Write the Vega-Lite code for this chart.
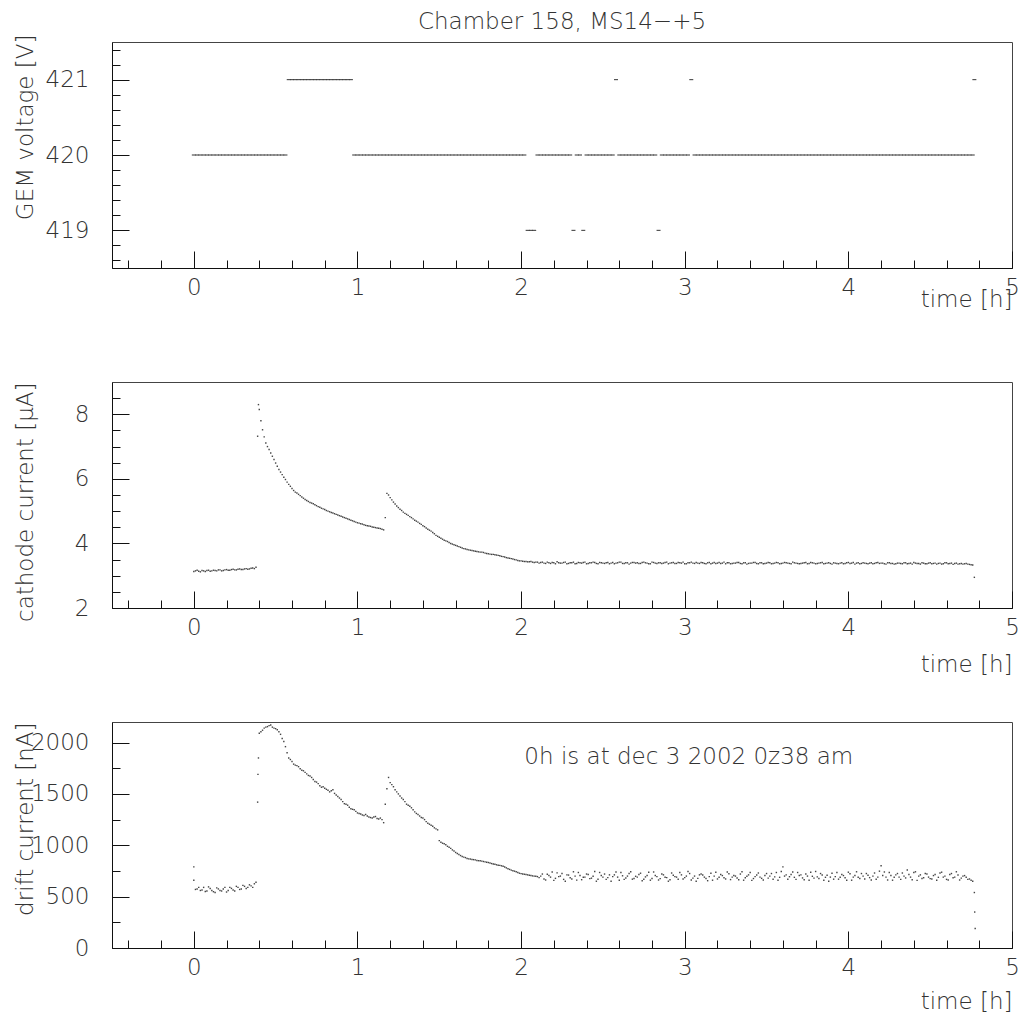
{
"$schema": "https://vega.github.io/schema/vega-lite/v6.json",
"padding": {"left": 13, "top": 10, "right": 5, "bottom": 5},
"background": "white",
"title": {"text": "Chamber 158, MS14−+5", "fontSize": 23, "font": "DejaVu Sans", "fontWeight": 200, "color": "#333", "anchor": "middle", "frame": "group", "baseline": "alphabetic", "offset": -18},
"spacing": 114,
"bounds": "flush",
"config": {
  "font": "DejaVu Sans",
  "view": {"stroke": "#444", "strokeWidth": 1},
  "axis": {"domainColor": "#111", "tickColor": "#111", "tickWidth": 1, "labelFont": "DejaVu Sans", "labelFontSize": 23, "labelFontWeight": 200, "labelColor": "#333", "titleFont": "DejaVu Sans", "titleFontSize": 23, "titleFontWeight": 200, "titleColor": "#333", "grid": false, "labelFlush": false, "labelOverlap": false, "labelBound": false}
},
"datasets": {"m": [
{"t":0.00,"v":420,"c":3.13,"d":660},{"t":0.00,"d":790},
{"t":0.02,"v":420,"c":3.17,"d":575},{"t":0.04,"v":420,"c":3.12,"d":560},{"t":0.06,"v":420,"c":3.15,"d":590},{"t":0.08,"v":420,"c":3.16,"d":555},
{"t":0.10,"v":420,"c":3.14,"d":580},{"t":0.12,"v":420,"c":3.17,"d":548},{"t":0.14,"v":420,"c":3.15,"d":585},{"t":0.16,"v":420,"c":3.18,"d":560},
{"t":0.18,"v":420,"c":3.16,"d":575},{"t":0.20,"v":420,"c":3.19,"d":545},{"t":0.22,"v":420,"c":3.17,"d":590},{"t":0.24,"v":420,"c":3.20,"d":565},
{"t":0.26,"v":420,"c":3.18,"d":600},{"t":0.28,"v":420,"c":3.21,"d":570},{"t":0.30,"v":420,"c":3.19,"d":610},{"t":0.32,"v":420,"c":3.22,"d":580},
{"t":0.34,"v":420,"c":3.21,"d":615},{"t":0.36,"v":420,"c":3.24,"d":590},{"t":0.38,"v":420,"c":3.26,"d":640},
{"t":0.39,"c":7.32,"d":1420},{"t":0.392,"d":1690},{"t":0.395,"c":8.30,"d":1850},
{"t":0.40,"v":420,"c":8.15,"d":2090},{"t":0.42,"v":420,"c":7.52,"d":2120},{"t":0.44,"v":420,"c":7.11,"d":2150},{"t":0.46,"v":420,"c":6.91,"d":2165},
{"t":0.48,"v":420,"c":6.70,"d":2150},{"t":0.50,"v":420,"c":6.49,"d":2135},{"t":0.52,"v":420,"c":6.29,"d":2105},{"t":0.54,"v":420,"c":6.13,"d":2040},
{"t":0.56,"v":420,"c":5.98,"d":1960},{"t":0.58,"v":421,"c":5.83,"d":1850},{"t":0.60,"v":421,"c":5.70,"d":1815},{"t":0.62,"v":421,"c":5.59,"d":1780},
{"t":0.64,"v":421,"c":5.52,"d":1765},{"t":0.66,"v":421,"c":5.44,"d":1730},{"t":0.68,"v":421,"c":5.36,"d":1710},{"t":0.70,"v":421,"c":5.30,"d":1680},
{"t":0.72,"v":421,"c":5.25,"d":1660},{"t":0.74,"v":421,"c":5.20,"d":1620},{"t":0.76,"v":421,"c":5.14,"d":1600},{"t":0.78,"v":421,"c":5.09,"d":1565},
{"t":0.80,"v":421,"c":5.05,"d":1555},{"t":0.82,"v":421,"c":5.00,"d":1535},{"t":0.84,"v":421,"c":4.96,"d":1530},{"t":0.86,"v":421,"c":4.92,"d":1505},
{"t":0.88,"v":421,"c":4.88,"d":1475},{"t":0.90,"v":421,"c":4.84,"d":1445},{"t":0.92,"v":421,"c":4.80,"d":1405},{"t":0.94,"v":421,"c":4.76,"d":1390},
{"t":0.96,"v":421,"c":4.72,"d":1355},{"t":0.98,"v":420,"c":4.68,"d":1345},{"t":1.00,"v":420,"c":4.64,"d":1315},{"t":1.02,"v":420,"c":4.61,"d":1305},
{"t":1.04,"v":420,"c":4.58,"d":1290},{"t":1.06,"v":420,"c":4.55,"d":1285},{"t":1.08,"v":420,"c":4.53,"d":1270},{"t":1.10,"v":420,"c":4.50,"d":1275},
{"t":1.12,"v":420,"c":4.48,"d":1260},{"t":1.14,"v":420,"c":4.46,"d":1265},{"t":1.16,"v":420,"c":4.42,"d":1220},
{"t":1.17,"c":4.80,"d":1400},{"t":1.19,"c":5.50,"d":1660},
{"t":1.18,"v":420,"c":5.55,"d":1550},{"t":1.20,"v":420,"c":5.42,"d":1610},{"t":1.22,"v":420,"c":5.28,"d":1570},{"t":1.24,"v":420,"c":5.16,"d":1520},
{"t":1.26,"v":420,"c":5.06,"d":1480},{"t":1.28,"v":420,"c":4.97,"d":1445},{"t":1.30,"v":420,"c":4.90,"d":1400},{"t":1.32,"v":420,"c":4.83,"d":1380},
{"t":1.34,"v":420,"c":4.76,"d":1345},{"t":1.36,"v":420,"c":4.69,"d":1310},{"t":1.38,"v":420,"c":4.62,"d":1285},{"t":1.40,"v":420,"c":4.55,"d":1265},
{"t":1.42,"v":420,"c":4.48,"d":1230},{"t":1.44,"v":420,"c":4.41,"d":1205},{"t":1.46,"v":420,"c":4.34,"d":1185},{"t":1.48,"v":420,"c":4.25,"d":1160},
{"t":1.50,"v":420,"c":4.19,"d":1045},{"t":1.52,"v":420,"c":4.13,"d":1020},{"t":1.54,"v":420,"c":4.08,"d":1005},{"t":1.56,"v":420,"c":4.03,"d":980},
{"t":1.58,"v":420,"c":3.98,"d":955},{"t":1.60,"v":420,"c":3.94,"d":930},{"t":1.62,"v":420,"c":3.90,"d":910},{"t":1.64,"v":420,"c":3.86,"d":890},
{"t":1.66,"v":420,"c":3.83,"d":880},{"t":1.68,"v":420,"c":3.80,"d":868},{"t":1.70,"v":420,"c":3.78,"d":862},{"t":1.72,"v":420,"c":3.76,"d":858},
{"t":1.74,"v":420,"c":3.74,"d":850},{"t":1.76,"v":420,"c":3.73,"d":846},{"t":1.78,"v":420,"c":3.70,"d":838},{"t":1.80,"v":420,"c":3.68,"d":832},
{"t":1.82,"v":420,"c":3.66,"d":822},{"t":1.84,"v":420,"c":3.65,"d":815},{"t":1.86,"v":420,"c":3.63,"d":806},{"t":1.88,"v":420,"c":3.60,"d":800},
{"t":1.90,"v":420,"c":3.58,"d":788},{"t":1.92,"v":420,"c":3.55,"d":772},{"t":1.94,"v":420,"c":3.53,"d":758},{"t":1.96,"v":420,"c":3.50,"d":748},
{"t":1.98,"v":420,"c":3.47,"d":735},{"t":2.00,"v":420,"c":3.46,"d":724},{"t":2.02,"v":420,"c":3.44,"d":718},{"t":2.04,"v":419,"c":3.43,"d":712},
{"t":2.06,"v":419,"c":3.44,"d":705},{"t":2.08,"v":419,"c":3.41,"d":700},{"t":2.10,"v":420,"c":3.42,"d":695},
{"t":2.12,"v":420,"c":3.41,"d":700},{"t":2.14,"v":420,"c":3.39,"d":672},{"t":2.16,"v":420,"c":3.42,"d":718},{"t":2.18,"v":420,"c":3.38,"d":690},{"t":2.20,"v":420,"c":3.40,"d":658},
{"t":2.22,"v":420,"c":3.43,"d":731},{"t":2.24,"v":420,"c":3.39,"d":700},{"t":2.26,"v":420,"c":3.41,"d":668},{"t":2.28,"v":420,"c":3.37,"d":712},{"t":2.30,"v":420,"c":3.40,"d":684},
{"t":2.32,"v":419,"c":3.42,"d":742},{"t":2.34,"v":420,"c":3.38,"d":661},{"t":2.36,"v":420,"c":3.40,"d":705},{"t":2.38,"v":419,"c":3.41,"d":688},{"t":2.40,"v":420,"c":3.37,"d":720},
{"t":2.42,"v":420,"c":3.40,"d":675},{"t":2.44,"v":420,"c":3.42,"d":698},{"t":2.46,"v":420,"c":3.38,"d":650},{"t":2.48,"v":420,"c":3.41,"d":735},{"t":2.50,"v":420,"c":3.39,"d":690},
{"t":2.52,"v":420,"c":3.40,"d":668},{"t":2.54,"v":420,"c":3.37,"d":712},{"t":2.56,"v":420,"c":3.41,"d":695},{"t":2.58,"v":421,"c":3.39,"d":740},{"t":2.60,"v":420,"c":3.42,"d":660},
{"t":2.62,"v":420,"c":3.38,"d":703},{"t":2.64,"v":420,"c":3.40,"d":682},{"t":2.66,"v":420,"c":3.36,"d":725},{"t":2.68,"v":420,"c":3.41,"d":670},{"t":2.70,"v":420,"c":3.39,"d":698},
{"t":2.72,"v":420,"c":3.38,"d":715},{"t":2.74,"v":420,"c":3.41,"d":655},{"t":2.76,"v":420,"c":3.40,"d":692},{"t":2.78,"v":420,"c":3.37,"d":738},{"t":2.80,"v":420,"c":3.42,"d":676},
{"t":2.82,"v":420,"c":3.39,"d":705},{"t":2.84,"v":419,"c":3.40,"d":662},{"t":2.86,"v":420,"c":3.38,"d":720},{"t":2.88,"v":420,"c":3.41,"d":688},{"t":2.90,"v":420,"c":3.37,"d":650},
{"t":2.92,"v":420,"c":3.40,"d":730},{"t":2.94,"v":420,"c":3.38,"d":695},{"t":2.96,"v":420,"c":3.41,"d":670},{"t":2.98,"v":420,"c":3.39,"d":712},{"t":3.00,"v":420,"c":3.37,"d":685},
{"t":3.02,"v":420,"c":3.40,"d":745},{"t":3.04,"v":421,"c":3.42,"d":662},{"t":3.06,"v":420,"c":3.38,"d":700},{"t":3.08,"v":420,"c":3.39,"d":678},{"t":3.10,"v":420,"c":3.41,"d":720},
{"t":3.12,"v":420,"c":3.38,"d":690},{"t":3.14,"v":420,"c":3.40,"d":655},{"t":3.16,"v":420,"c":3.37,"d":728},{"t":3.18,"v":420,"c":3.41,"d":700},{"t":3.20,"v":420,"c":3.39,"d":672},
{"t":3.22,"v":420,"c":3.38,"d":715},{"t":3.24,"v":420,"c":3.42,"d":684},{"t":3.26,"v":420,"c":3.40,"d":740},{"t":3.28,"v":420,"c":3.37,"d":666},{"t":3.30,"v":420,"c":3.39,"d":705},
{"t":3.32,"v":420,"c":3.41,"d":682},{"t":3.34,"v":420,"c":3.38,"d":720},{"t":3.36,"v":420,"c":3.40,"d":660},{"t":3.38,"v":420,"c":3.36,"d":698},{"t":3.40,"v":420,"c":3.39,"d":735},
{"t":3.42,"v":420,"c":3.41,"d":676},{"t":3.44,"v":420,"c":3.38,"d":710},{"t":3.46,"v":420,"c":3.40,"d":690},{"t":3.48,"v":420,"c":3.37,"d":662},{"t":3.50,"v":420,"c":3.39,"d":725},
{"t":3.52,"v":420,"c":3.40,"d":700},{"t":3.54,"v":420,"c":3.38,"d":670},{"t":3.56,"v":420,"c":3.41,"d":735},{"t":3.58,"v":420,"c":3.37,"d":688},{"t":3.60,"v":420,"c":3.39,"d":790},
{"t":3.62,"v":420,"c":3.40,"d":712},{"t":3.64,"v":420,"c":3.38,"d":694},{"t":3.66,"v":420,"c":3.42,"d":740},{"t":3.68,"v":420,"c":3.39,"d":668},{"t":3.70,"v":420,"c":3.37,"d":705},
{"t":3.72,"v":420,"c":3.39,"d":682},{"t":3.74,"v":420,"c":3.41,"d":720},{"t":3.76,"v":420,"c":3.38,"d":660},{"t":3.78,"v":420,"c":3.40,"d":698},{"t":3.80,"v":420,"c":3.37,"d":745},
{"t":3.82,"v":420,"c":3.39,"d":676},{"t":3.84,"v":420,"c":3.41,"d":710},{"t":3.86,"v":420,"c":3.38,"d":688},{"t":3.88,"v":420,"c":3.40,"d":650},{"t":3.90,"v":420,"c":3.36,"d":728},
{"t":3.92,"v":420,"c":3.39,"d":695},{"t":3.94,"v":420,"c":3.37,"d":670},{"t":3.96,"v":420,"c":3.40,"d":715},{"t":3.98,"v":420,"c":3.38,"d":684},{"t":4.00,"v":420,"c":3.41,"d":738},
{"t":4.02,"v":420,"c":3.39,"d":660},{"t":4.04,"v":420,"c":3.36,"d":705},{"t":4.06,"v":420,"c":3.40,"d":688},{"t":4.08,"v":420,"c":3.38,"d":725},{"t":4.10,"v":420,"c":3.39,"d":672},
{"t":4.12,"v":420,"c":3.37,"d":708},{"t":4.14,"v":420,"c":3.40,"d":662},{"t":4.16,"v":420,"c":3.38,"d":730},{"t":4.18,"v":420,"c":3.41,"d":690},{"t":4.20,"v":420,"c":3.39,"d":800},
{"t":4.22,"v":420,"c":3.37,"d":740},{"t":4.24,"v":420,"c":3.40,"d":662},{"t":4.26,"v":420,"c":3.38,"d":705},{"t":4.28,"v":420,"c":3.36,"d":688},{"t":4.30,"v":420,"c":3.39,"d":725},
{"t":4.32,"v":420,"c":3.38,"d":668},{"t":4.34,"v":420,"c":3.40,"d":700},{"t":4.36,"v":420,"c":3.37,"d":760},{"t":4.38,"v":420,"c":3.39,"d":690},{"t":4.40,"v":420,"c":3.41,"d":735},
{"t":4.42,"v":420,"c":3.38,"d":658},{"t":4.44,"v":420,"c":3.36,"d":712},{"t":4.46,"v":420,"c":3.39,"d":684},{"t":4.48,"v":420,"c":3.37,"d":720},{"t":4.50,"v":420,"c":3.40,"d":675},
{"t":4.52,"v":420,"c":3.38,"d":705},{"t":4.54,"v":420,"c":3.36,"d":660},{"t":4.56,"v":420,"c":3.39,"d":730},{"t":4.58,"v":420,"c":3.37,"d":690},{"t":4.60,"v":420,"c":3.40,"d":668},
{"t":4.62,"v":420,"c":3.38,"d":715},{"t":4.64,"v":420,"c":3.35,"d":684},{"t":4.66,"v":420,"c":3.39,"d":742},{"t":4.68,"v":420,"c":3.37,"d":662},{"t":4.70,"v":420,"c":3.36,"d":700},
{"t":4.72,"v":420,"c":3.38,"d":688},{"t":4.74,"v":420,"c":3.35,"d":672},{"t":4.76,"v":420,"c":3.33,"d":650},
{"t":4.77,"v":421,"c":2.95,"d":540},{"t":4.772,"d":350},{"t":4.775,"d":190},
{"t":0.01,"c":3.15,"d":570},{"t":0.03,"c":3.14,"d":590},{"t":0.05,"c":3.16,"d":565},{"t":0.07,"c":3.13,"d":550},{"t":0.09,"c":3.17,"d":595},
{"t":0.11,"c":3.15,"d":560},{"t":0.13,"c":3.16,"d":540},{"t":0.15,"c":3.18,"d":575},{"t":0.17,"c":3.15,"d":555},{"t":0.19,"c":3.18,"d":590},
{"t":0.21,"c":3.17,"d":560},{"t":0.23,"c":3.19,"d":580},{"t":0.25,"c":3.18,"d":555},{"t":0.27,"c":3.20,"d":590},{"t":0.29,"c":3.19,"d":575},
{"t":0.31,"c":3.21,"d":600},{"t":0.33,"c":3.20,"d":590},{"t":0.35,"c":3.23,"d":605},{"t":0.37,"c":3.22,"d":625},
{"t":0.41,"c":7.80,"d":2105},{"t":0.43,"c":7.30,"d":2140},{"t":0.45,"c":7.00,"d":2155},{"t":0.47,"c":6.80,"d":2170},{"t":0.49,"c":6.60,"d":2140},
{"t":0.51,"c":6.39,"d":2125},{"t":0.53,"c":6.21,"d":2080},{"t":0.55,"c":6.05,"d":2010},{"t":0.57,"c":5.90,"d":1900},{"t":0.59,"c":5.77,"d":1835},
{"t":0.61,"c":5.64,"d":1790},{"t":0.63,"c":5.56,"d":1775},{"t":0.65,"c":5.48,"d":1745},{"t":0.67,"c":5.40,"d":1725},{"t":0.69,"c":5.33,"d":1695},
{"t":0.71,"c":5.27,"d":1675},{"t":0.73,"c":5.23,"d":1640},{"t":0.75,"c":5.17,"d":1615},{"t":0.77,"c":5.12,"d":1580},{"t":0.79,"c":5.07,"d":1570},
{"t":0.81,"c":5.02,"d":1545},{"t":0.83,"c":4.98,"d":1520},{"t":0.85,"c":4.94,"d":1540},{"t":0.87,"c":4.90,"d":1490},{"t":0.89,"c":4.86,"d":1460},
{"t":0.91,"c":4.82,"d":1425},{"t":0.93,"c":4.78,"d":1400},{"t":0.95,"c":4.74,"d":1370},{"t":0.97,"c":4.70,"d":1350},{"t":0.99,"c":4.66,"d":1330},
{"t":1.01,"c":4.63,"d":1310},{"t":1.03,"c":4.60,"d":1295},{"t":1.05,"c":4.56,"d":1300},{"t":1.07,"c":4.54,"d":1275},{"t":1.09,"c":4.51,"d":1265},
{"t":1.11,"c":4.49,"d":1280},{"t":1.13,"c":4.47,"d":1255},{"t":1.15,"c":4.44,"d":1250},
{"t":1.21,"c":5.35,"d":1590},{"t":1.23,"c":5.22,"d":1540},{"t":1.25,"c":5.11,"d":1500},{"t":1.27,"c":5.02,"d":1460},{"t":1.29,"c":4.93,"d":1425},
{"t":1.31,"c":4.87,"d":1390},{"t":1.33,"c":4.80,"d":1365},{"t":1.35,"c":4.72,"d":1325},{"t":1.37,"c":4.66,"d":1300},{"t":1.39,"c":4.59,"d":1270},
{"t":1.41,"c":4.52,"d":1250},{"t":1.43,"c":4.44,"d":1215},{"t":1.45,"c":4.38,"d":1195},{"t":1.47,"c":4.30,"d":1170},{"t":1.49,"c":4.22,"d":1150},
{"t":1.51,"c":4.16,"d":1030},{"t":1.53,"c":4.10,"d":1015},{"t":1.55,"c":4.06,"d":990},{"t":1.57,"c":4.00,"d":970},{"t":1.59,"c":3.96,"d":945},
{"t":1.61,"c":3.92,"d":920},{"t":1.63,"c":3.88,"d":900},{"t":1.65,"c":3.84,"d":885},{"t":1.67,"c":3.81,"d":872},{"t":1.69,"c":3.79,"d":866},
{"t":1.71,"c":3.77,"d":860},{"t":1.73,"c":3.75,"d":852},{"t":1.75,"c":3.73,"d":850},{"t":1.77,"c":3.72,"d":842},{"t":1.79,"c":3.69,"d":835},
{"t":1.81,"c":3.67,"d":828},{"t":1.83,"c":3.66,"d":818},{"t":1.85,"c":3.64,"d":810},{"t":1.87,"c":3.62,"d":804},{"t":1.89,"c":3.59,"d":795},
{"t":1.91,"c":3.56,"d":780},{"t":1.93,"c":3.54,"d":765},{"t":1.95,"c":3.52,"d":752},{"t":1.97,"c":3.49,"d":742},{"t":1.99,"c":3.46,"d":728},
{"t":2.01,"c":3.45,"d":720},{"t":2.03,"c":3.44,"d":715},{"t":2.05,"c":3.43,"d":708},{"t":2.07,"c":3.42,"d":702},{"t":2.09,"c":3.42,"d":698},
{"t":2.11,"c":3.39,"d":685},{"t":2.13,"c":3.42,"d":720},{"t":2.15,"c":3.38,"d":662},{"t":2.17,"c":3.40,"d":705},{"t":2.19,"c":3.41,"d":740},
{"t":2.21,"c":3.37,"d":678},{"t":2.23,"c":3.40,"d":695},{"t":2.25,"c":3.39,"d":725},{"t":2.27,"c":3.42,"d":650},{"t":2.29,"c":3.38,"d":710},
{"t":2.31,"c":3.40,"d":672},{"t":2.33,"c":3.37,"d":700},{"t":2.35,"c":3.41,"d":735},{"t":2.37,"c":3.39,"d":665},{"t":2.39,"c":3.42,"d":690},
{"t":2.41,"c":3.38,"d":715},{"t":2.43,"c":3.40,"d":680},{"t":2.45,"c":3.41,"d":745},{"t":2.47,"c":3.37,"d":670},{"t":2.49,"c":3.40,"d":705},
{"t":2.51,"c":3.38,"d":720},{"t":2.53,"c":3.41,"d":685},{"t":2.55,"c":3.39,"d":650},{"t":2.57,"c":3.37,"d":712},{"t":2.59,"c":3.40,"d":690},
{"t":2.61,"c":3.42,"d":735},{"t":2.63,"c":3.38,"d":668},{"t":2.65,"c":3.40,"d":700},{"t":2.67,"c":3.39,"d":742},{"t":2.69,"c":3.41,"d":676},
{"t":2.71,"c":3.40,"d":690},{"t":2.73,"c":3.38,"d":728},{"t":2.75,"c":3.42,"d":670},{"t":2.77,"c":3.39,"d":705},{"t":2.79,"c":3.37,"d":660},
{"t":2.81,"c":3.41,"d":740},{"t":2.83,"c":3.38,"d":695},{"t":2.85,"c":3.40,"d":675},{"t":2.87,"c":3.39,"d":712},{"t":2.89,"c":3.42,"d":685},
{"t":2.91,"c":3.39,"d":665},{"t":2.93,"c":3.41,"d":708},{"t":2.95,"c":3.38,"d":690},{"t":2.97,"c":3.40,"d":735},{"t":2.99,"c":3.42,"d":672},
{"t":3.01,"c":3.37,"d":700},{"t":3.03,"c":3.40,"d":725},{"t":3.05,"c":3.39,"d":680},{"t":3.07,"c":3.41,"d":650},{"t":3.09,"c":3.38,"d":712},
{"t":3.11,"c":3.40,"d":710},{"t":3.13,"c":3.37,"d":676},{"t":3.15,"c":3.41,"d":695},{"t":3.17,"c":3.39,"d":660},{"t":3.19,"c":3.38,"d":738},
{"t":3.21,"c":3.41,"d":688},{"t":3.23,"c":3.39,"d":705},{"t":3.25,"c":3.37,"d":672},{"t":3.27,"c":3.40,"d":722},{"t":3.29,"c":3.38,"d":690},
{"t":3.31,"c":3.39,"d":700},{"t":3.33,"c":3.41,"d":665},{"t":3.35,"c":3.37,"d":742},{"t":3.37,"c":3.40,"d":684},{"t":3.39,"c":3.38,"d":712},
{"t":3.41,"c":3.39,"d":658},{"t":3.43,"c":3.41,"d":695},{"t":3.45,"c":3.37,"d":730},{"t":3.47,"c":3.40,"d":678},{"t":3.49,"c":3.38,"d":705},
{"t":3.51,"c":3.41,"d":680},{"t":3.53,"c":3.37,"d":725},{"t":3.55,"c":3.39,"d":692},{"t":3.57,"c":3.40,"d":660},{"t":3.59,"c":3.38,"d":745},
{"t":3.61,"c":3.41,"d":700},{"t":3.63,"c":3.39,"d":670},{"t":3.65,"c":3.37,"d":715},{"t":3.67,"c":3.40,"d":688},{"t":3.69,"c":3.38,"d":735},
{"t":3.71,"c":3.38,"d":712},{"t":3.73,"c":3.40,"d":665},{"t":3.75,"c":3.37,"d":700},{"t":3.77,"c":3.41,"d":738},{"t":3.79,"c":3.39,"d":680},
{"t":3.81,"c":3.38,"d":692},{"t":3.83,"c":3.40,"d":725},{"t":3.85,"c":3.37,"d":660},{"t":3.87,"c":3.39,"d":708},{"t":3.89,"c":3.38,"d":690},
{"t":3.91,"c":3.40,"d":670},{"t":3.93,"c":3.38,"d":735},{"t":3.95,"c":3.39,"d":688},{"t":3.97,"c":3.37,"d":705},{"t":3.99,"c":3.40,"d":660},
{"t":4.01,"c":3.38,"d":722},{"t":4.03,"c":3.41,"d":690},{"t":4.05,"c":3.39,"d":742},{"t":4.07,"c":3.37,"d":676},{"t":4.09,"c":3.40,"d":700},
{"t":4.11,"c":3.38,"d":725},{"t":4.13,"c":3.39,"d":685},{"t":4.15,"c":3.37,"d":700},{"t":4.17,"c":3.40,"d":670},{"t":4.19,"c":3.38,"d":748},
{"t":4.21,"c":3.39,"d":705},{"t":4.23,"c":3.36,"d":690},{"t":4.25,"c":3.40,"d":735},{"t":4.27,"c":3.38,"d":660},{"t":4.29,"c":3.37,"d":712},
{"t":4.31,"c":3.39,"d":690},{"t":4.33,"c":3.37,"d":730},{"t":4.35,"c":3.40,"d":682},{"t":4.37,"c":3.38,"d":715},{"t":4.39,"c":3.36,"d":665},
{"t":4.41,"c":3.39,"d":742},{"t":4.43,"c":3.38,"d":700},{"t":4.45,"c":3.40,"d":676},{"t":4.47,"c":3.37,"d":725},{"t":4.49,"c":3.39,"d":690},
{"t":4.51,"c":3.37,"d":672},{"t":4.53,"c":3.39,"d":715},{"t":4.55,"c":3.38,"d":688},{"t":4.57,"c":3.36,"d":738},{"t":4.59,"c":3.40,"d":700},
{"t":4.61,"c":3.37,"d":662},{"t":4.63,"c":3.39,"d":725},{"t":4.65,"c":3.38,"d":690},{"t":4.67,"c":3.36,"d":710},{"t":4.69,"c":3.38,"d":680},
{"t":4.71,"c":3.37,"d":705},{"t":4.73,"c":3.36,"d":668},{"t":4.75,"c":3.34,"d":660}
]},
"vconcat": [
{
  "width": 900, "height": 226,
  "data": {"name": "m"},
  "transform": [{"filter": "isValid(datum.v)"}],
  "mark": {"type": "point", "shape": "M-1,-0.25L1,-0.25L1,0.25L-1,0.25Z", "filled": true, "size": 16, "color": "#333", "opacity": 1},
  "encoding": {
    "x": {"field": "t", "type": "quantitative", "scale": {"domain": [-0.5, 5], "nice": false, "zero": false},
      "axis": {"title": "time [h]", "values": [-0.4,-0.2,0,0.2,0.4,0.6,0.8,1,1.2,1.4,1.6,1.8,2,2.2,2.4,2.6,2.8,3,3.2,3.4,3.6,3.8,4,4.2,4.4,4.6,4.8,5],
        "labelExpr": "abs(datum.value - round(datum.value)) < 0.001 ? '' + round(datum.value) : ''",
        "tickSize": {"condition": {"test": "abs(datum.value - round(datum.value)) < 0.001", "value": -17}, "value": -8},
        "labelPadding": 25, "titleAnchor": "end", "titleAlign": "right", "titleX": 900, "titleY": 38, "titleBaseline": "alphabetic"}},
    "y": {"field": "v", "type": "quantitative", "scale": {"domain": [418.5, 421.5], "nice": false, "zero": false},
      "axis": {"title": "GEM voltage [V]", "values": [418.6,418.8,419,419.2,419.4,419.6,419.8,420,420.2,420.4,420.6,420.8,421,421.2,421.4],
        "labelExpr": "abs(datum.value - round(datum.value)) < 0.001 ? '' + round(datum.value) : ''",
        "tickSize": {"condition": {"test": "abs(datum.value - round(datum.value)) < 0.001", "value": -17}, "value": -8},
        "labelPadding": 40, "titleAngle": -90, "titleAnchor": "end", "titleAlign": "right", "titleX": -80, "titleY": -8, "titleBaseline": "alphabetic"}}
  }
},
{
  "width": 900, "height": 226,
  "data": {"name": "m"},
  "transform": [{"filter": "isValid(datum.c)"}],
  "mark": {"type": "point", "shape": "square", "filled": true, "size": 2, "color": "#444", "opacity": 1},
  "encoding": {
    "x": {"field": "t", "type": "quantitative", "scale": {"domain": [-0.5, 5], "nice": false, "zero": false},
      "axis": {"title": "time [h]", "values": [-0.4,-0.2,0,0.2,0.4,0.6,0.8,1,1.2,1.4,1.6,1.8,2,2.2,2.4,2.6,2.8,3,3.2,3.4,3.6,3.8,4,4.2,4.4,4.6,4.8,5],
        "labelExpr": "abs(datum.value - round(datum.value)) < 0.001 ? '' + round(datum.value) : ''",
        "tickSize": {"condition": {"test": "abs(datum.value - round(datum.value)) < 0.001", "value": -17}, "value": -8},
        "labelPadding": 25, "titleAnchor": "end", "titleAlign": "right", "titleX": 900, "titleY": 63, "titleBaseline": "alphabetic"}},
    "y": {"field": "c", "type": "quantitative", "scale": {"domain": [2, 9], "nice": false, "zero": false},
      "axis": {"title": "cathode current [µA]", "values": [2,2.5,3,3.5,4,4.5,5,5.5,6,6.5,7,7.5,8,8.5],
        "labelExpr": "datum.value % 2 == 0 ? '' + datum.value : ''",
        "tickSize": {"condition": {"test": "datum.value % 2 == 0", "value": -17}, "value": -8},
        "labelPadding": 40, "titleAngle": -90, "titleAnchor": "end", "titleAlign": "right", "titleX": -80, "titleY": 0, "titleBaseline": "alphabetic"}}
  }
},
{
  "width": 900, "height": 226,
  "encoding": {
    "x": {"field": "t", "type": "quantitative", "scale": {"domain": [-0.5, 5], "nice": false, "zero": false},
      "axis": {"title": "time [h]", "values": [-0.4,-0.2,0,0.2,0.4,0.6,0.8,1,1.2,1.4,1.6,1.8,2,2.2,2.4,2.6,2.8,3,3.2,3.4,3.6,3.8,4,4.2,4.4,4.6,4.8,5],
        "labelExpr": "abs(datum.value - round(datum.value)) < 0.001 ? '' + round(datum.value) : ''",
        "tickSize": {"condition": {"test": "abs(datum.value - round(datum.value)) < 0.001", "value": -17}, "value": -8},
        "labelPadding": 25, "titleAnchor": "end", "titleAlign": "right", "titleX": 900, "titleY": 60, "titleBaseline": "alphabetic"}},
    "y": {"field": "d", "type": "quantitative", "scale": {"domain": [0, 2200], "nice": false, "zero": false},
      "axis": {"title": "drift current [nA]", "values": [0,250,500,750,1000,1250,1500,1750,2000],
        "labelExpr": "datum.value % 500 == 0 ? '' + datum.value : ''",
        "tickSize": {"condition": {"test": "datum.value % 500 == 0", "value": -17}, "value": -8},
        "labelPadding": 40, "titleAngle": -90, "titleAnchor": "end", "titleAlign": "right", "titleX": -80, "titleY": 0, "titleBaseline": "alphabetic"}}
  },
  "layer": [
    {
      "data": {"name": "m"},
      "transform": [{"filter": "isValid(datum.d)"}],
      "mark": {"type": "point", "shape": "square", "filled": true, "size": 2, "color": "#444", "opacity": 1}
    },
    {
      "data": {"values": [{"t": 2.02, "d": 1790, "label": "0h is at dec 3 2002 0z38 am"}]},
      "mark": {"type": "text", "align": "left", "baseline": "alphabetic", "fontSize": 23, "fontWeight": 200, "font": "DejaVu Sans", "color": "#333"},
      "encoding": {"text": {"field": "label"}}
    }
  ]
}
]
}
